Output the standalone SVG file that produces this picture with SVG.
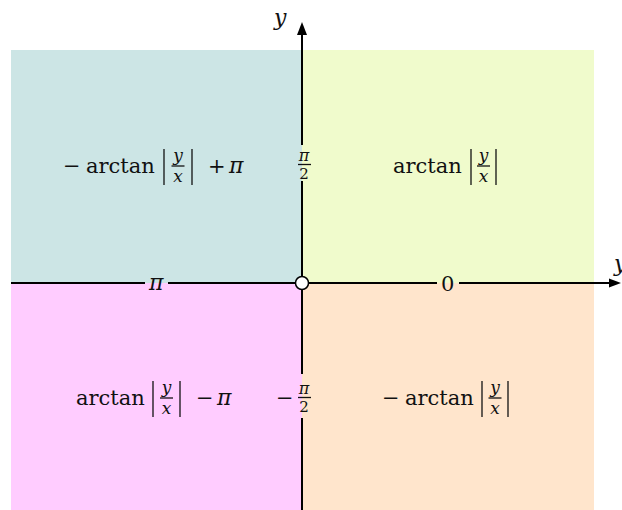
<svg xmlns="http://www.w3.org/2000/svg" width="622" height="510" viewBox="0 0 622 510">
<style>
.t{font-family:"DejaVu Serif","Liberation Serif",serif;font-size:21px;fill:#111}
.i{font-family:"DejaVu Serif","Liberation Serif",serif;font-style:italic;font-size:22px;fill:#111}
.f{font-family:"DejaVu Serif","Liberation Serif",serif;font-style:italic;font-size:17px;fill:#111;text-anchor:middle}
.s{font-family:"DejaVu Serif","Liberation Serif",serif;font-size:15px;fill:#111;text-anchor:middle}
.si{font-family:"DejaVu Serif","Liberation Serif",serif;font-style:italic;font-size:16px;fill:#111;text-anchor:middle}
.bar{stroke:#111;stroke-width:1.3}
.ax{stroke:#000;stroke-width:2;fill:none}
</style>
<g id="regions">
<rect id="q2" x="11" y="50" width="291" height="233" fill="#CCE5E5"/>
<rect id="q1" x="302" y="50" width="292" height="233" fill="#F0FBCC"/>
<rect id="q3" x="11" y="283" width="291" height="227" fill="#FFCCFF"/>
<rect id="q4" x="302" y="283" width="292" height="227" fill="#FFE5CC"/>
</g>
<g id="connectors">
<line class="ax" x1="11" y1="283" x2="145" y2="283"/>
<line class="ax" x1="168" y1="283" x2="437" y2="283"/>
<line class="ax" x1="459" y1="283" x2="610" y2="283"/>
<line class="ax" x1="302" y1="510" x2="302" y2="418"/>
<line class="ax" x1="302" y1="374" x2="302" y2="181"/>
<line class="ax" x1="302" y1="145" x2="302" y2="34"/>
<path d="M297,35 L302,22 L307,35 Z" fill="#000"/>
<path d="M609,278.5 L621,283 L609,287.5 Z" fill="#000"/>
</g>
<g id="origin"><circle cx="302" cy="283" r="6.5" fill="#fff" stroke="#000" stroke-width="1.5"/></g>
<g id="axis-labels">
<text class="i" x="274" y="25">y</text>
<text class="i" x="614" y="271">y</text>
<text class="i" x="149" y="290">π</text>
<text class="t" x="441" y="291">0</text>
<text class="si" x="304" y="161">π</text>
<line class="bar" x1="298" y1="164.5" x2="311" y2="164.5"/>
<text class="s" x="304" y="178.5">2</text>
<text class="t" x="276" y="405">−</text>
<text class="si" x="304" y="394">π</text>
<line class="bar" x1="298" y1="397.5" x2="311" y2="397.5"/>
<text class="s" x="304" y="412">2</text>
</g>
<g id="label-q2">
<text class="t" x="63" y="173">−</text>
<text class="t" x="86" y="173">arctan</text>
<line class="bar" x1="164" y1="149" x2="164" y2="185"/>
<text class="f" x="178" y="161">y</text>
<line class="bar" x1="171.5" y1="166" x2="184.5" y2="166"/>
<text class="f" x="178" y="182">x</text>
<line class="bar" x1="192" y1="149" x2="192" y2="185"/>
<text class="t" x="208" y="173">+</text>
<text class="i" x="229" y="173">π</text>
</g>
<g id="label-q1">
<text class="t" x="393" y="173">arctan</text>
<line class="bar" x1="471" y1="149" x2="471" y2="185"/>
<text class="f" x="483.5" y="161">y</text>
<line class="bar" x1="477" y1="166" x2="490" y2="166"/>
<text class="f" x="483.5" y="182">x</text>
<line class="bar" x1="496" y1="149" x2="496" y2="185"/>
</g>
<g id="label-q3">
<text class="t" x="76" y="405">arctan</text>
<line class="bar" x1="153" y1="381" x2="153" y2="417"/>
<text class="f" x="166.5" y="393">y</text>
<line class="bar" x1="160" y1="398" x2="173" y2="398"/>
<text class="f" x="166.5" y="414">x</text>
<line class="bar" x1="180" y1="381" x2="180" y2="417"/>
<text class="t" x="196" y="405">−</text>
<text class="i" x="217" y="405">π</text>
</g>
<g id="label-q4">
<text class="t" x="382" y="405">−</text>
<text class="t" x="405" y="405">arctan</text>
<line class="bar" x1="482" y1="381" x2="482" y2="417"/>
<text class="f" x="495" y="393">y</text>
<line class="bar" x1="488.5" y1="398" x2="501.5" y2="398"/>
<text class="f" x="495" y="414">x</text>
<line class="bar" x1="508" y1="381" x2="508" y2="417"/>
</g>
</svg>
